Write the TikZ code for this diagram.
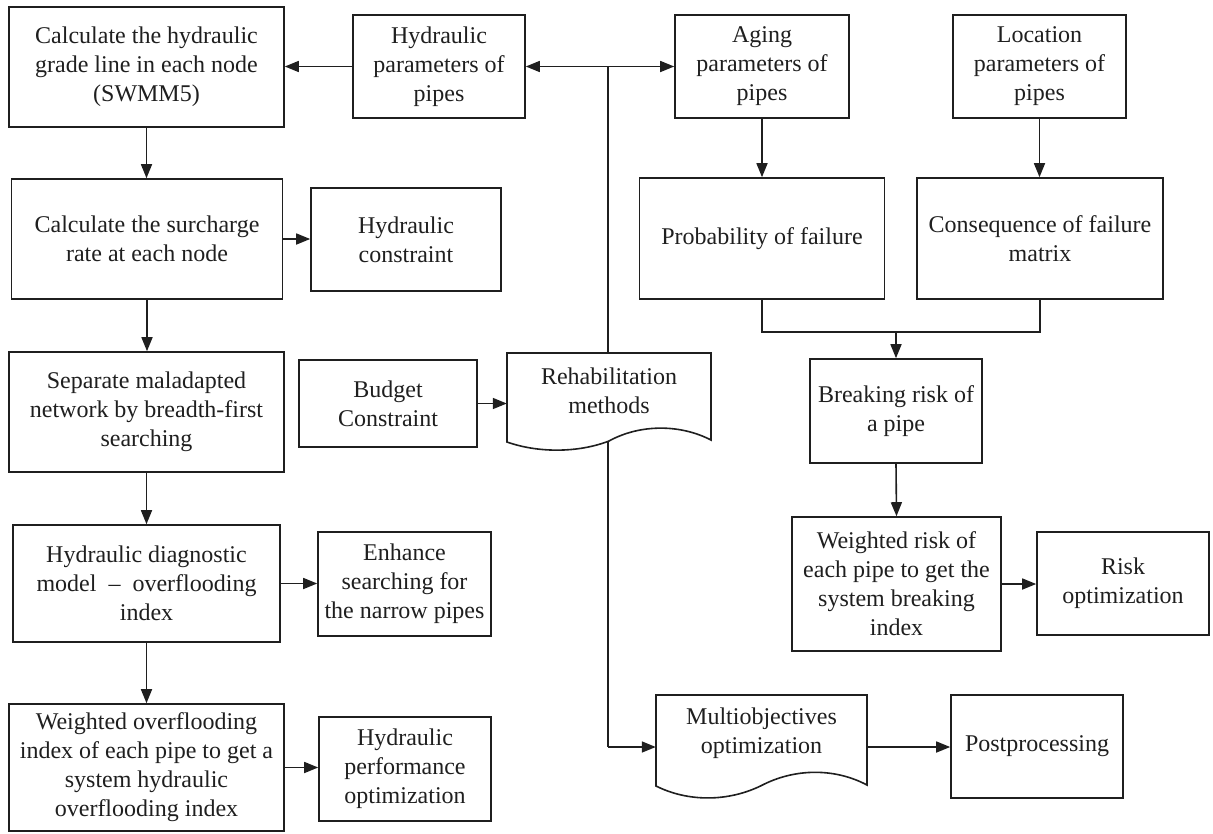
\documentclass[tikz,border=0pt]{standalone}
\usepackage{fontspec}
\setmainfont{Liberation Serif}
\usetikzlibrary{arrows.meta,calc}
\definecolor{ink}{gray}{0.12}
\begin{document}
\begin{tikzpicture}[x=1pt,y=-1pt,
  box/.style={draw=ink,line width=1.6pt,fill=white,align=center,inner sep=1pt,
    text=ink,font=\fontsize{24}{29}\selectfont},
  txt/.style={align=center,inner sep=1pt,text=ink,font=\fontsize{24}{29}\selectfont},
  doc/.style={draw=ink,line width=1.6pt,fill=white},
  link/.style={draw=ink,line width=1.6pt},
  arr/.style={link,-{Triangle[length=14pt,width=11pt]}}]
\useasboundingbox (0,0) rectangle (1213,833);

% trunk from the parameter row down to the optimisation step
\coordinate (j) at (608,66.5);
\coordinate (jb) at (608,747);
\draw[link] (j) -- (jb);

% document-shaped outlines (wavy lower edge)
\draw[doc] (507,353) -- (711,353) -- (711,440)
  .. controls (680,424) and (640,424) .. (609,441)
  .. controls (578,453) and (538,453) .. (507,442) -- cycle;
\draw[doc] (656,695) -- (867,695) -- (867,785)
  .. controls (835,768) and (795,768) .. (761.5,785.5)
  .. controls (728,802) and (688,802) .. (656,786) -- cycle;

% left column
\node[box,minimum width=275pt,minimum height=120pt] (hgl) at (146.5,67)
  {Calculate the hydraulic\\grade line in each node\\(SWMM5)};
\node[box,minimum width=271pt,minimum height=120pt] (surch) at (147,239)
  {Calculate the surcharge\\rate at each node};
\node[box,minimum width=275pt,minimum height=120pt] (sep) at (146.5,412)
  {Separate maladapted\\network by breadth-first\\searching};
\node[box,minimum width=267pt,minimum height=117pt] (diag) at (146.5,583.5)
  {Hydraulic diagnostic\\model\hspace{12pt}–\hspace{12pt}overflooding\\index};
\node[box,minimum width=275pt,minimum height=127pt] (wover) at (146.5,767.5)
  {Weighted overflooding\\index of each pipe to get a\\system hydraulic\\overflooding index};

% second column
\node[box,minimum width=172pt,minimum height=103pt] (hyd) at (439,66.5)
  {Hydraulic\\parameters of\\pipes};
\node[box,minimum width=190pt,minimum height=103pt] (hcons) at (406,239.5)
  {Hydraulic\\constraint};
\node[box,minimum width=178pt,minimum height=87pt] (budget) at (388,403.5)
  {Budget\\Constraint};
\node[box,minimum width=173pt,minimum height=104pt] (enh) at (404.5,584)
  {Enhance\\searching for\\the narrow pipes};
\node[box,minimum width=172pt,minimum height=104pt] (hperf) at (405,769)
  {Hydraulic\\performance\\optimization};

% document shapes: text areas
\node[txt,minimum width=204pt,minimum height=76pt] (rehab) at (609,391)
  {Rehabilitation\\methods};
\node[txt,minimum width=211pt,minimum height=77pt] (multi) at (761.5,733.5)
  {Multiobjectives\\optimization};

% right columns
\node[box,minimum width=174pt,minimum height=103pt] (aging) at (762,66.5)
  {Aging\\parameters of\\pipes};
\node[box,minimum width=173pt,minimum height=103pt] (loc) at (1039.5,66.5)
  {Location\\parameters of\\pipes};
\node[box,minimum width=245pt,minimum height=121pt] (prob) at (762,238.5)
  {Probability of failure};
\node[box,minimum width=246pt,minimum height=121pt] (cons) at (1040,238.5)
  {Consequence of failure\\matrix};
\node[box,minimum width=172pt,minimum height=104pt] (brk) at (896,411)
  {Breaking risk of\\a pipe};
\node[box,minimum width=209pt,minimum height=134pt] (wrisk) at (896.5,584)
  {Weighted risk of\\each pipe to get the\\system breaking\\index};
\node[box,minimum width=172pt,minimum height=103pt] (ropt) at (1123,583.5)
  {Risk\\optimization};
\node[box,minimum width=172pt,minimum height=103pt] (post) at (1037,746.5)
  {Postprocessing};

% connectors
\draw[arr] (hyd.west) -- (hyd.west -| hgl.east);
\draw[arr] (j) -- (hyd.east);
\draw[arr] (j) -- (aging.west);
\draw[arr] (jb) -- (jb -| multi.west);
\draw[arr] (jb -| multi.east) -- (jb -| post.west);

\draw[arr] (hgl.south) -- (hgl.south |- surch.north);
\draw[arr] (surch.east) -- (surch.east -| hcons.west);
\draw[arr] (surch.south) -- (surch.south |- sep.north);
\draw[arr] (sep.south) -- (sep.south |- diag.north);
\draw[arr] (diag.east) -- (diag.east -| enh.west);
\draw[arr] (diag.south) -- (diag.south |- wover.north);
\draw[arr] (wover.east) -- (wover.east -| hperf.west);
\draw[arr] (budget.east) -- (budget.east -| rehab.west);

\draw[arr] (aging.south) -- (aging.south |- prob.north);
\draw[arr] (loc.south) -- (loc.south |- cons.north);
\coordinate (mrg) at (896,332);
\draw[link] (prob.south) |- (mrg) -| (cons.south);
\draw[arr] (mrg) -- (brk.north);
\draw[arr] (brk.south) -- (wrisk.north);
\draw[arr] (wrisk.east) -- (wrisk.east -| ropt.west);
\end{tikzpicture}
\end{document}
